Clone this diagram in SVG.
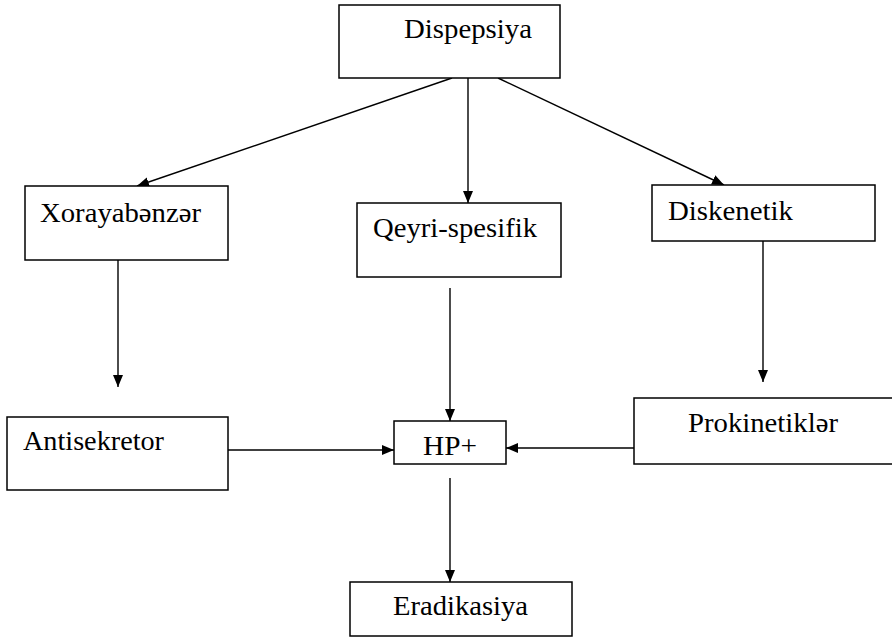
<svg xmlns="http://www.w3.org/2000/svg" width="892" height="638" viewBox="0 0 892 638">
<style>
.box{fill:#fff;stroke:#000;stroke-width:1.5}
.t{font-family:"Liberation Serif","Times New Roman",serif;font-size:27px;fill:#000}
.c{stroke:#000;stroke-width:1.4;fill:none;marker-end:url(#ah)}
</style>
<defs>
<marker id="ah" markerUnits="userSpaceOnUse" markerWidth="12" markerHeight="10" refX="12" refY="5" orient="auto">
<path d="M0,0 L12,5 L0,10 z" fill="#000"/>
</marker>
</defs>
<rect width="892" height="638" fill="#fff"/>
<g id="connectors">
<line class="c" x1="452" y1="78" x2="137" y2="186"/>
<line class="c" x1="468" y1="78" x2="468" y2="203"/>
<line class="c" x1="498" y1="78" x2="724" y2="185"/>
<line class="c" x1="118" y1="260" x2="118" y2="387"/>
<line class="c" x1="450" y1="288" x2="450" y2="421"/>
<line class="c" x1="763" y1="241" x2="763" y2="382"/>
<line class="c" x1="228" y1="450" x2="394" y2="450"/>
<line class="c" x1="634" y1="448" x2="506" y2="448"/>
<line class="c" x1="450" y1="478" x2="450" y2="582"/>
</g>
<g id="dispepsiya"><rect class="box" x="339" y="5" width="221" height="73"/><text class="t" x="404" y="38" textLength="128" lengthAdjust="spacingAndGlyphs">Dispepsiya</text></g>
<g id="xorayabenzer"><rect class="box" x="25" y="186" width="203" height="74"/><text class="t" x="40" y="222" textLength="161" lengthAdjust="spacingAndGlyphs">Xorayabənzər</text></g>
<g id="qeyri"><rect class="box" x="357" y="203" width="204" height="74"/><text class="t" x="373" y="237" textLength="164" lengthAdjust="spacingAndGlyphs">Qeyri-spesifik</text></g>
<g id="diskenetik"><rect class="box" x="652" y="185" width="223" height="56"/><text class="t" x="668" y="220" textLength="125" lengthAdjust="spacingAndGlyphs">Diskenetik</text></g>
<g id="antisekretor"><rect class="box" x="7" y="417" width="221" height="73"/><text class="t" x="23" y="450" textLength="141" lengthAdjust="spacingAndGlyphs">Antisekretor</text></g>
<g id="hp"><rect class="box" x="394" y="421" width="112" height="43"/><text class="t" x="423" y="455" textLength="54" lengthAdjust="spacingAndGlyphs">HP+</text></g>
<g id="prokinetikler"><rect class="box" x="634" y="398" width="262" height="66"/><text class="t" x="688" y="432" textLength="150" lengthAdjust="spacingAndGlyphs">Prokinetiklər</text></g>
<g id="eradikasiya"><rect class="box" x="350" y="582" width="222" height="54"/><text class="t" x="393" y="615" textLength="135" lengthAdjust="spacingAndGlyphs">Eradikasiya</text></g>
</svg>
